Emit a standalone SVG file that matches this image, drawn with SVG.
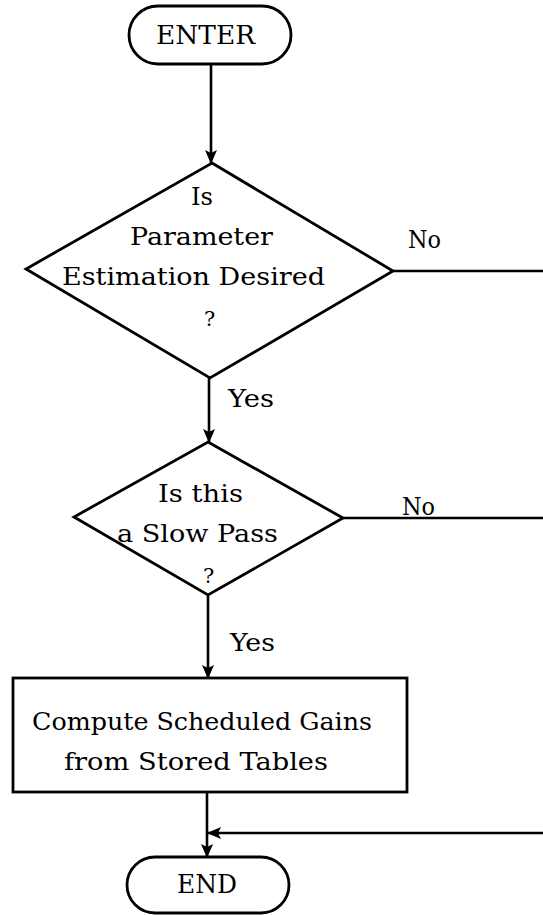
<svg xmlns="http://www.w3.org/2000/svg" width="543" height="915" viewBox="0 0 543 915">
<style>
.shape{fill:#fff;stroke:#000;stroke-width:2.8;stroke-linejoin:miter}
.line{fill:none;stroke:#000;stroke-width:2.6}
text{font-family:"DejaVu Serif","Liberation Serif",serif;font-size:25px;fill:#000}
.big{font-size:26px}
.q{font-size:21px}
</style>
<defs>
<marker id="arr" markerWidth="14" markerHeight="12" refX="13" refY="6" orient="auto" markerUnits="userSpaceOnUse">
<path d="M0,0 L14,6 L0,12 L3,6 z" fill="#000"/>
</marker>
</defs>
<rect width="543" height="915" fill="#fff"/>
<g id="connectors">
<line class="line" x1="211" y1="64" x2="211" y2="163" marker-end="url(#arr)"/>
<line class="line" x1="209" y1="378" x2="209" y2="442" marker-end="url(#arr)"/>
<line class="line" x1="208" y1="595" x2="208" y2="678" marker-end="url(#arr)"/>
<line class="line" x1="207" y1="792" x2="207" y2="857" marker-end="url(#arr)"/>
<line class="line" x1="393" y1="271" x2="543" y2="271"/>
<line class="line" x1="343" y1="518" x2="543" y2="518"/>
<line class="line" x1="543" y1="833" x2="208" y2="833" marker-end="url(#arr)"/>
<text x="408" y="248" textLength="33" lengthAdjust="spacingAndGlyphs">No</text>
<text x="228" y="407" textLength="46" lengthAdjust="spacingAndGlyphs">Yes</text>
<text x="402" y="515" textLength="33" lengthAdjust="spacingAndGlyphs">No</text>
<text x="230" y="651" textLength="45" lengthAdjust="spacingAndGlyphs">Yes</text>
</g>
<g id="enter">
<rect class="shape" x="129" y="6" width="162" height="58" rx="29" ry="29"/>
<text class="big" x="156" y="44" textLength="99" lengthAdjust="spacingAndGlyphs">ENTER</text>
</g>
<g id="decision1">
<polygon class="shape" points="212,163 393,271 210,378 26,269"/>
<text x="191" y="205" textLength="22" lengthAdjust="spacingAndGlyphs">Is</text>
<text x="130" y="245" textLength="143" lengthAdjust="spacingAndGlyphs">Parameter</text>
<text x="62" y="285" textLength="263" lengthAdjust="spacingAndGlyphs">Estimation Desired</text>
<text class="q" x="204" y="326">?</text>
</g>
<g id="decision2">
<polygon class="shape" points="208,442 343,518 208,595 74,517"/>
<text x="158" y="502" textLength="85" lengthAdjust="spacingAndGlyphs">Is this</text>
<text x="117" y="542" textLength="161" lengthAdjust="spacingAndGlyphs">a Slow Pass</text>
<text class="q" x="203" y="583">?</text>
</g>
<g id="compute">
<rect class="shape" x="13" y="678" width="394" height="114"/>
<text x="32" y="730" textLength="340" lengthAdjust="spacingAndGlyphs">Compute Scheduled Gains</text>
<text x="64" y="770" textLength="264" lengthAdjust="spacingAndGlyphs">from Stored Tables</text>
</g>
<g id="end">
<rect class="shape" x="127" y="857" width="162" height="56" rx="28" ry="28"/>
<text class="big" x="177" y="893" textLength="60" lengthAdjust="spacingAndGlyphs">END</text>
</g>
</svg>
